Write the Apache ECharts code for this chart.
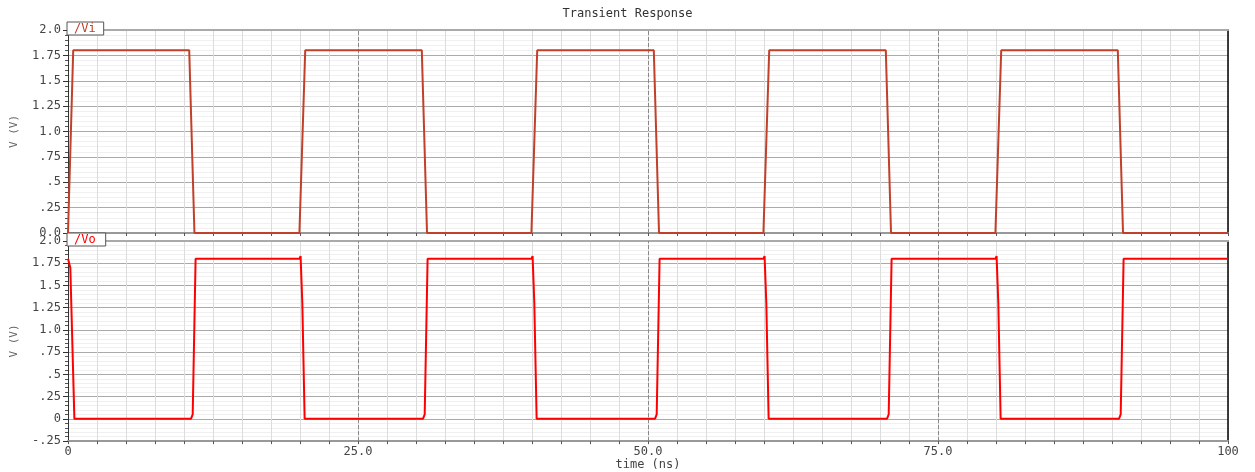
<!DOCTYPE html>
<html><head><meta charset="utf-8">
<script src="https://cdn.jsdelivr.net/npm/echarts@6/dist/echarts.min.js"></script>
<style>html,body{margin:0;padding:0;background:#fff}#c{width:1255px;height:472px}</style>
</head><body><div id="c"></div>
<script>
// time (ns) and voltage samples
const viTime = [0, 0.45, 10.45, 10.9, 19.95, 20.45, 30.5, 30.95, 39.95, 40.45, 50.5, 50.95, 59.95, 60.45, 70.5, 70.95, 79.95, 80.45, 90.5, 90.95, 100];
const viVolt = [0, 1.8, 1.8, 0, 0, 1.8, 1.8, 0, 0, 1.8, 1.8, 0, 0, 1.8, 1.8, 0, 0, 1.8, 1.8, 0, 0];

const voTime = [0, 0.08, 0.2, 0.55, 10.6, 10.75, 11.0, 19.95, 20.05, 20.2, 20.4, 30.6, 30.75, 31.0, 39.95, 40.05, 40.2, 40.4, 50.6, 50.75, 51.0, 59.95, 60.05, 60.2, 60.4, 70.6, 70.75, 71.0, 79.95, 80.05, 80.2, 80.4, 90.6, 90.75, 91.0, 100];
const voVolt = [1.8, 1.82, 1.7, 0, 0, 0.05, 1.8, 1.8, 1.83, 1.3, 0, 0, 0.05, 1.8, 1.8, 1.83, 1.3, 0, 0, 0.05, 1.8, 1.8, 1.83, 1.3, 0, 0, 0.05, 1.8, 1.8, 1.83, 1.3, 0, 0, 0.05, 1.8, 1.8];

const xTickLabels = {0: '0', 25: '25.0', 50: '50.0', 75: '75.0', 100: '100'};
const yTickLabelsTop = {'0': '0.0', '0.25': '.25', '0.5': '.5', '0.75': '.75', '1': '1.0', '1.25': '1.25', '1.5': '1.5', '1.75': '1.75', '2': '2.0'};
const yTickLabelsBottom = {'-0.25': '-.25', '0': '0', '0.25': '.25', '0.5': '.5', '0.75': '.75', '1': '1.0', '1.25': '1.25', '1.5': '1.5', '1.75': '1.75', '2': '2.0'};
const dashTimes = [25, 50, 75];

const FONT = 'DejaVu Sans Mono';
const TXT = '#444';

function zipPairs(t, v) { return t.map((x, i) => [x, v[i]]); }

function xAxisFor(idx, showLabels) {
  return {
    type: 'value', gridIndex: idx, min: 0, max: 100, interval: 2.5,
    name: showLabels ? 'time (ns)' : '', nameLocation: 'middle', nameGap: 15,
    nameTextStyle: {fontFamily: FONT, fontSize: 12, color: TXT},
    axisLine: {show: true, onZero: false, lineStyle: {color: '#999', width: 2}},
    axisTick: {show: true, length: 3, lineStyle: {color: '#555'}},
    axisLabel: {show: showLabels, margin: 5, fontFamily: FONT, fontSize: 12, color: TXT,
      formatter: v => (xTickLabels[v] !== undefined ? xTickLabels[v] : '')},
    splitLine: {show: true, lineStyle: {color: '#dcdcdc', width: 1}}
  };
}
function xTopFor(idx) {
  return {
    type: 'value', gridIndex: idx, min: 0, max: 100, position: 'top',
    axisLine: {show: true, onZero: false, lineStyle: {color: '#aaa', width: 2}},
    axisTick: {show: false}, axisLabel: {show: false}, splitLine: {show: false}
  };
}
function yAxisFor(idx, min, labels) {
  return {
    type: 'value', gridIndex: idx, min: min, max: 2, interval: 0.25,
    name: 'V (V)', nameLocation: 'middle', nameGap: 48, nameRotate: 90,
    nameTextStyle: {fontFamily: FONT, fontSize: 11, color: '#666'},
    axisLine: {show: true, onZero: false, lineStyle: {color: '#333', width: 1}},
    axisTick: {show: true, length: 5, lineStyle: {color: '#333'}},
    minorTick: {show: true, splitNumber: 5, length: 3, lineStyle: {color: '#555'}},
    axisLabel: {margin: 7, fontFamily: FONT, fontSize: 12, color: TXT,
      formatter: v => { const k = String(Math.round(v * 100) / 100); return labels[k] !== undefined ? labels[k] : k; }},
    splitLine: {show: true, lineStyle: {color: '#aaaaaa', width: 1}},
    minorSplitLine: {show: true, lineStyle: {color: '#f0f0f0', width: 1}}
  };
}
function yRightFor(idx, min) {
  return {
    type: 'value', gridIndex: idx, min: min, max: 2, position: 'right',
    axisLine: {show: true, onZero: false, lineStyle: {color: '#000', width: 1.5}},
    axisTick: {show: false}, axisLabel: {show: false}, splitLine: {show: false}
  };
}
function dashMarks() {
  return {
    silent: true, symbol: 'none', label: {show: false},
    lineStyle: {color: '#888', type: [4, 2], width: 1},
    data: dashTimes.map(t => ({xAxis: t}))
  };
}

const chart = echarts.init(document.getElementById('c'), null, {renderer: 'canvas'});
chart.setOption({
  animation: false,
  backgroundColor: '#fff',
  title: {text: 'Transient Response', left: 'center', top: 3,
    textStyle: {fontFamily: FONT, fontSize: 12, fontWeight: 'normal', color: '#333'}},
  legend: [
    {data: [{name: '/Vi', textStyle: {color: '#c0402a'}}], left: 67, top: 22, icon: 'none', itemWidth: 0, itemGap: 0,
      padding: [0, 8, 0, 2], borderColor: '#555', borderWidth: 1, backgroundColor: '#fff',
      textStyle: {fontFamily: FONT, fontSize: 12}, selectedMode: false},
    {data: [{name: '/Vo', textStyle: {color: '#ff0000'}}], left: 67, top: 233, icon: 'none', itemWidth: 0, itemGap: 0,
      padding: [0, 10, 0, 2], borderColor: '#555', borderWidth: 1, backgroundColor: '#fff',
      textStyle: {fontFamily: FONT, fontSize: 12}, selectedMode: false}
  ],
  grid: [
    {left: 68, right: 27, top: 30, height: 203},
    {left: 68, right: 27, top: 241, height: 203}
  ],
  xAxis: [xAxisFor(0, false), xAxisFor(1, true), xTopFor(0), xTopFor(1)],
  yAxis: [yAxisFor(0, 0, yTickLabelsTop), yAxisFor(1, -0.25, yTickLabelsBottom), yRightFor(0, 0), yRightFor(1, -0.25)],
  series: [
    {name: '/Vi', type: 'line', xAxisIndex: 0, yAxisIndex: 0, data: zipPairs(viTime, viVolt),
      showSymbol: false, lineStyle: {color: '#c0402a', width: 2}, itemStyle: {color: '#c0402a'}, markLine: dashMarks(), z: 5},
    {name: '/Vo', type: 'line', xAxisIndex: 1, yAxisIndex: 1, data: zipPairs(voTime, voVolt),
      showSymbol: false, lineStyle: {color: '#ff0000', width: 2}, itemStyle: {color: '#ff0000'}, markLine: dashMarks(), z: 5}
  ]
});
</script></body></html>
